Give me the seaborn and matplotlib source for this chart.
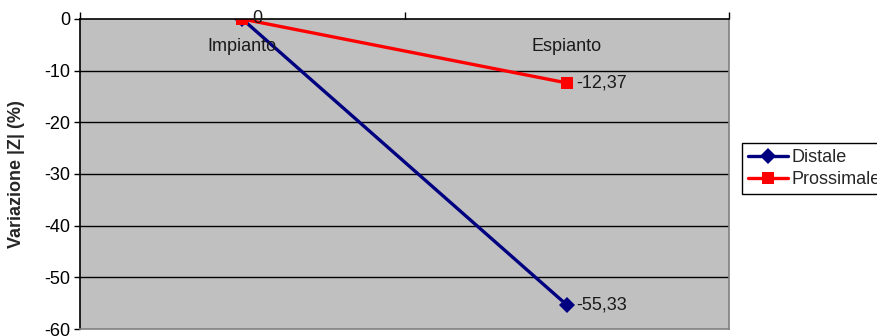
import matplotlib
matplotlib.use("Agg")
import matplotlib.pyplot as plt
import seaborn as sns
import pandas as pd

# Phases along the x axis and the change in |Z| for each electrode position
fasi = ["Impianto", "Espianto"]
distale = [0.0, -55.33]
prossimale = [0.0, -12.37]
serie = ["Distale", "Prossimale"]
etichette_dati = {"Distale": ["", "-55,33"], "Prossimale": ["0", "-12,37"]}
y_ticks = [0, -10, -20, -30, -40, -50, -60]

df = pd.DataFrame({
    "Fase": fasi * 2,
    "Variazione": distale + prossimale,
    "Serie": [serie[0]] * len(fasi) + [serie[1]] * len(fasi),
})

sns.set_theme(style="white")
plt.rcParams["font.family"] = ["Liberation Sans", "DejaVu Sans"]

fig = plt.figure(figsize=(8.77, 3.36), dpi=100)
ax = fig.add_axes([80 / 877, 7 / 336, 649 / 877, 310 / 336])
ax.set_facecolor("#C0C0C0")

palette = {"Distale": "#000080", "Prossimale": "#FF0000"}
markers = {"Distale": "D", "Prossimale": "s"}
sns.lineplot(data=df, x="Fase", y="Variazione", hue="Serie", style="Serie",
             hue_order=serie, style_order=serie, palette=palette,
             markers=markers, dashes=False, sort=False, linewidth=2.4,
             markersize=8, markeredgewidth=0, ax=ax)

ax.set_xlim(-0.5, 1.5)
ax.set_ylim(-60, 0)

# Horizontal gridlines
ax.set_yticks(y_ticks)
ax.set_yticklabels([str(t) for t in y_ticks], fontsize=13, color="black")
for t in y_ticks[1:-1]:
    ax.axhline(t, color="black", linewidth=1.0, zorder=0.5)
ax.tick_params(axis="y", direction="out", length=4, width=1, color="black",
               left=True, pad=3)

# Category axis on top, crossing at zero, labels inside the plot area
ax.xaxis.set_ticks_position("top")
ax.set_xticks([-0.5, 0.5, 1.5], minor=True)
ax.set_xticks([0, 1])
ax.set_xticklabels([])
ax.tick_params(axis="x", which="major", length=0, top=False, bottom=False)
ax.tick_params(axis="x", which="minor", direction="out", length=5, width=1,
               color="black", top=True, bottom=False)
ax.set_xlabel("")
for i, f in enumerate(fasi):
    ax.annotate(f, xy=(i, 0), xytext=(0, -19.5), textcoords="offset points",
                ha="center", va="center", fontsize=13, color="#1a1a1a")

ax.set_ylabel("Variazione |Z| (%)", fontsize=13, fontweight="bold")
ax.yaxis.set_label_coords(-55 / 649, 0.5)

for side, col in [("left", "black"), ("top", "black"),
                  ("right", "#808080"), ("bottom", "#808080")]:
    ax.spines[side].set_visible(True)
    ax.spines[side].set_color(col)
    ax.spines[side].set_linewidth(1.2)

# Data labels beside the points
vals = {"Distale": distale, "Prossimale": prossimale}
for s in serie:
    for i, lab in enumerate(etichette_dati[s]):
        if lab:
            ax.annotate(lab, xy=(i, vals[s][i]), xytext=(7, 0),
                        textcoords="offset points", ha="left", va="center",
                        fontsize=13, color="#1a1a1a", clip_on=False)

handles, labels = ax.get_legend_handles_labels()
keep = [(h, l) for h, l in zip(handles, labels) if l in serie]
ax.legend([h for h, _ in keep], [l for _, l in keep],
          loc="upper left", bbox_to_anchor=(742 / 877, 1 - 143 / 336),
          bbox_transform=fig.transFigure, fontsize=13, frameon=True,
          fancybox=False, edgecolor="black", facecolor="white", framealpha=1,
          handlelength=2.2, handletextpad=0.2, borderpad=0.35,
          labelspacing=0.25, borderaxespad=0)
ax.get_legend().get_frame().set_linewidth(1.0)

fig.savefig("out.png", dpi=100, facecolor="white")
